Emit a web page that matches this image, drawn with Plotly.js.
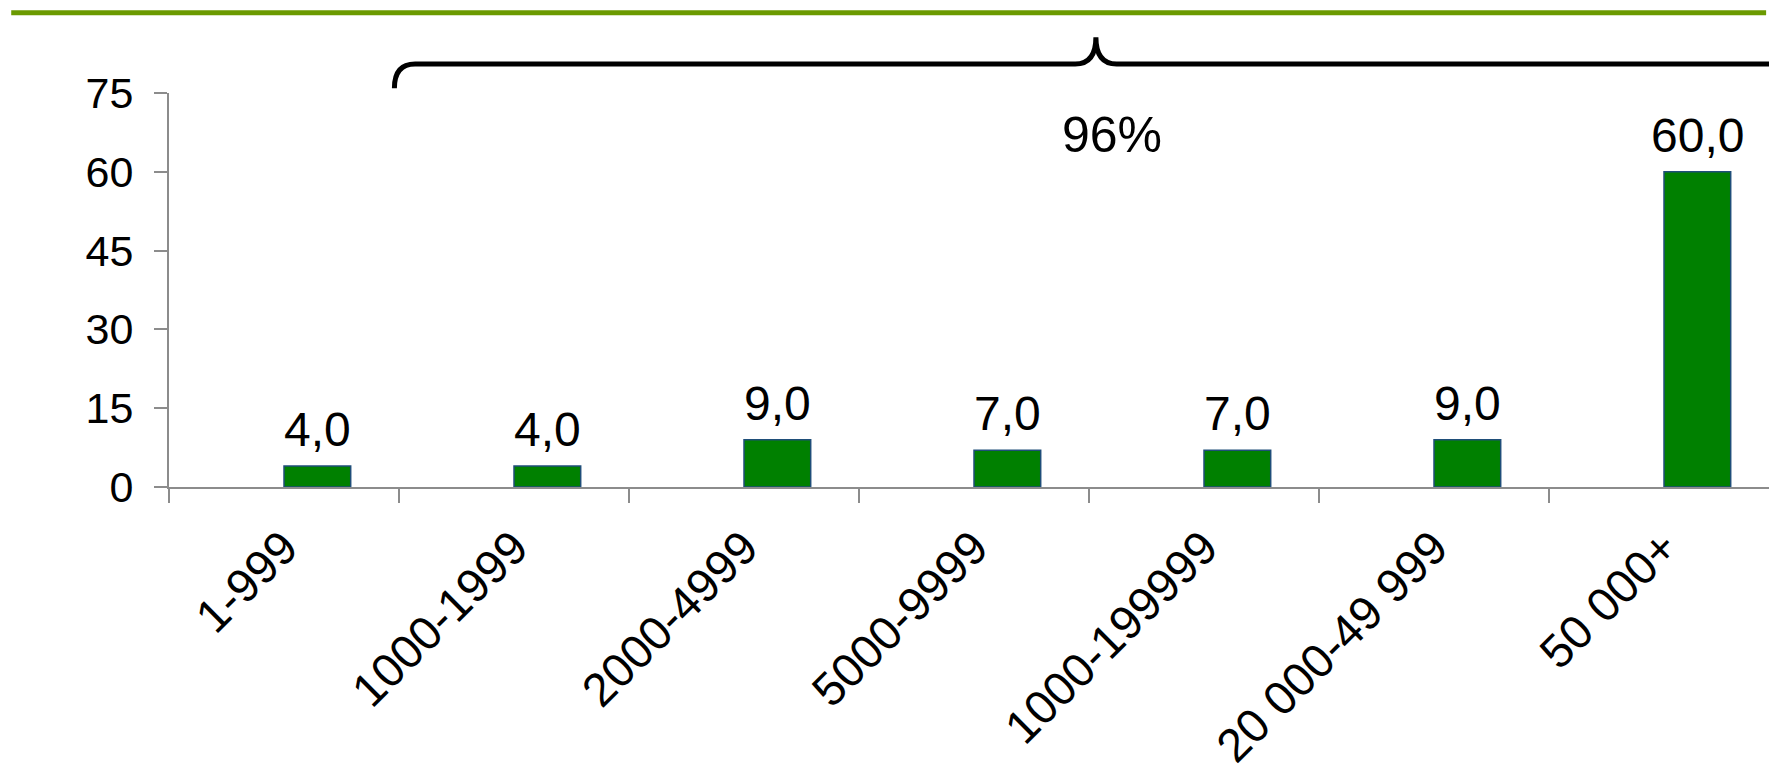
<!DOCTYPE html>
<html>
<head>
<meta charset="utf-8">
<script src="https://cdn.plot.ly/plotly-3.0.1.min.js"></script>
<style>
  html, body { margin: 0; padding: 0; background: #ffffff; overflow: hidden; }
  #chart { width: 1800px; height: 764px; }
</style>
</head>
<body>
<div id="chart"></div>
<script>
// ---- data ----
const categories = ["1-999", "1000-1999", "2000-4999", "5000-9999", "1000-199999", "20 000-49 999", "50 000+"];
const values = [4, 4, 9, 7, 7, 9, 60];
const yTicks = [0, 15, 30, 45, 60, 75];
const braceLabel = "96%";

// ---- helpers ----
const fmt = v => v.toFixed(1).replace(".", ",");
const nCat = categories.length;
const yMax = 75;
// convert axis-units (category index / value) to paper coordinates
const px = xc => (xc + 0.5) / nCat;
const py = yv => yv / yMax;

const barWidth = 0.29;

const trace = {
  type: "bar",
  x: categories,
  y: values,
  width: barWidth,
  offset: 0,
  marker: { color: "#008000", line: { color: "#1F4E79", width: 1.5 } },
  hoverinfo: "none"
};

const labelAnnotations = values.map((v, i) => ({
  x: i + barWidth / 2,
  y: v,
  xref: "x",
  yref: "y",
  text: fmt(v),
  showarrow: false,
  xanchor: "center",
  yanchor: "bottom",
  yshift: 8,
  font: { family: "Liberation Sans, Arial, sans-serif", size: 48, color: "#000000" }
}));

// brace over categories 2..7 (in axis units)
const bL = 0.48, bPeak = 3.53, bR = 6.65;
const yLine = 80.5, yTip = 85.6, yEnd = 75.9;
const dx = 0.09, dxp = 0.09;
const bracePath =
  `M ${px(bL)} ${py(yEnd)} ` +
  `Q ${px(bL)} ${py(yLine)} ${px(bL + dx)} ${py(yLine)} ` +
  `L ${px(bPeak - dxp)} ${py(yLine)} ` +
  `Q ${px(bPeak)} ${py(yLine)} ${px(bPeak)} ${py(yTip)} ` +
  `Q ${px(bPeak)} ${py(yLine)} ${px(bPeak + dxp)} ${py(yLine)} ` +
  `L ${px(bR - dx)} ${py(yLine)} ` +
  `Q ${px(bR)} ${py(yLine)} ${px(bR)} ${py(yEnd)}`;

const layout = {
  width: 1800,
  height: 764,
  margin: { l: 169, r: 21, t: 93, b: 277 },
  paper_bgcolor: "#ffffff",
  plot_bgcolor: "#ffffff",
  showlegend: false,
  font: { family: "Liberation Sans, Arial, sans-serif", color: "#000000" },
  xaxis: {
    type: "category",
    range: [-0.5, nCat - 0.5],
    tickson: "boundaries",
    ticks: "outside",
    ticklen: 14,
    tickwidth: 2,
    tickcolor: "#8C8C8C",
    showline: true,
    linecolor: "#8C8C8C",
    linewidth: 2,
    showgrid: false,
    zeroline: false,
    tickangle: -45,
    tickfont: { size: 47, color: "#000000" },
    ticklabelstandoff: 12,
    fixedrange: true
  },
  yaxis: {
    range: [0, yMax],
    tickvals: yTicks,
    ticktext: yTicks.map(String),
    ticks: "outside",
    ticklen: 13,
    tickwidth: 2,
    tickcolor: "#8C8C8C",
    showline: true,
    linecolor: "#8C8C8C",
    linewidth: 2,
    showgrid: false,
    zeroline: false,
    tickfont: { size: 43, color: "#000000" },
    ticklabelstandoff: 12,
    fixedrange: true
  },
  shapes: [
    {
      type: "line", xref: "paper", yref: "paper",
      x0: -0.098, x1: 0.992, y0: 1.2034, y1: 1.2034,
      line: { color: "#6B9A00", width: 5 }
    },
    {
      type: "path", xref: "paper", yref: "paper",
      path: bracePath,
      line: { color: "#000000", width: 5 }
    }
  ],
  annotations: labelAnnotations.concat([{
    xref: "paper", yref: "paper",
    x: px(3.6), y: py(67),
    text: braceLabel,
    showarrow: false,
    xanchor: "center", yanchor: "middle",
    font: { family: "Liberation Sans, Arial, sans-serif", size: 50, color: "#000000" }
  }])
};

Plotly.newPlot("chart", [trace], layout, { displayModeBar: false, staticPlot: true });
</script>
</body>
</html>
